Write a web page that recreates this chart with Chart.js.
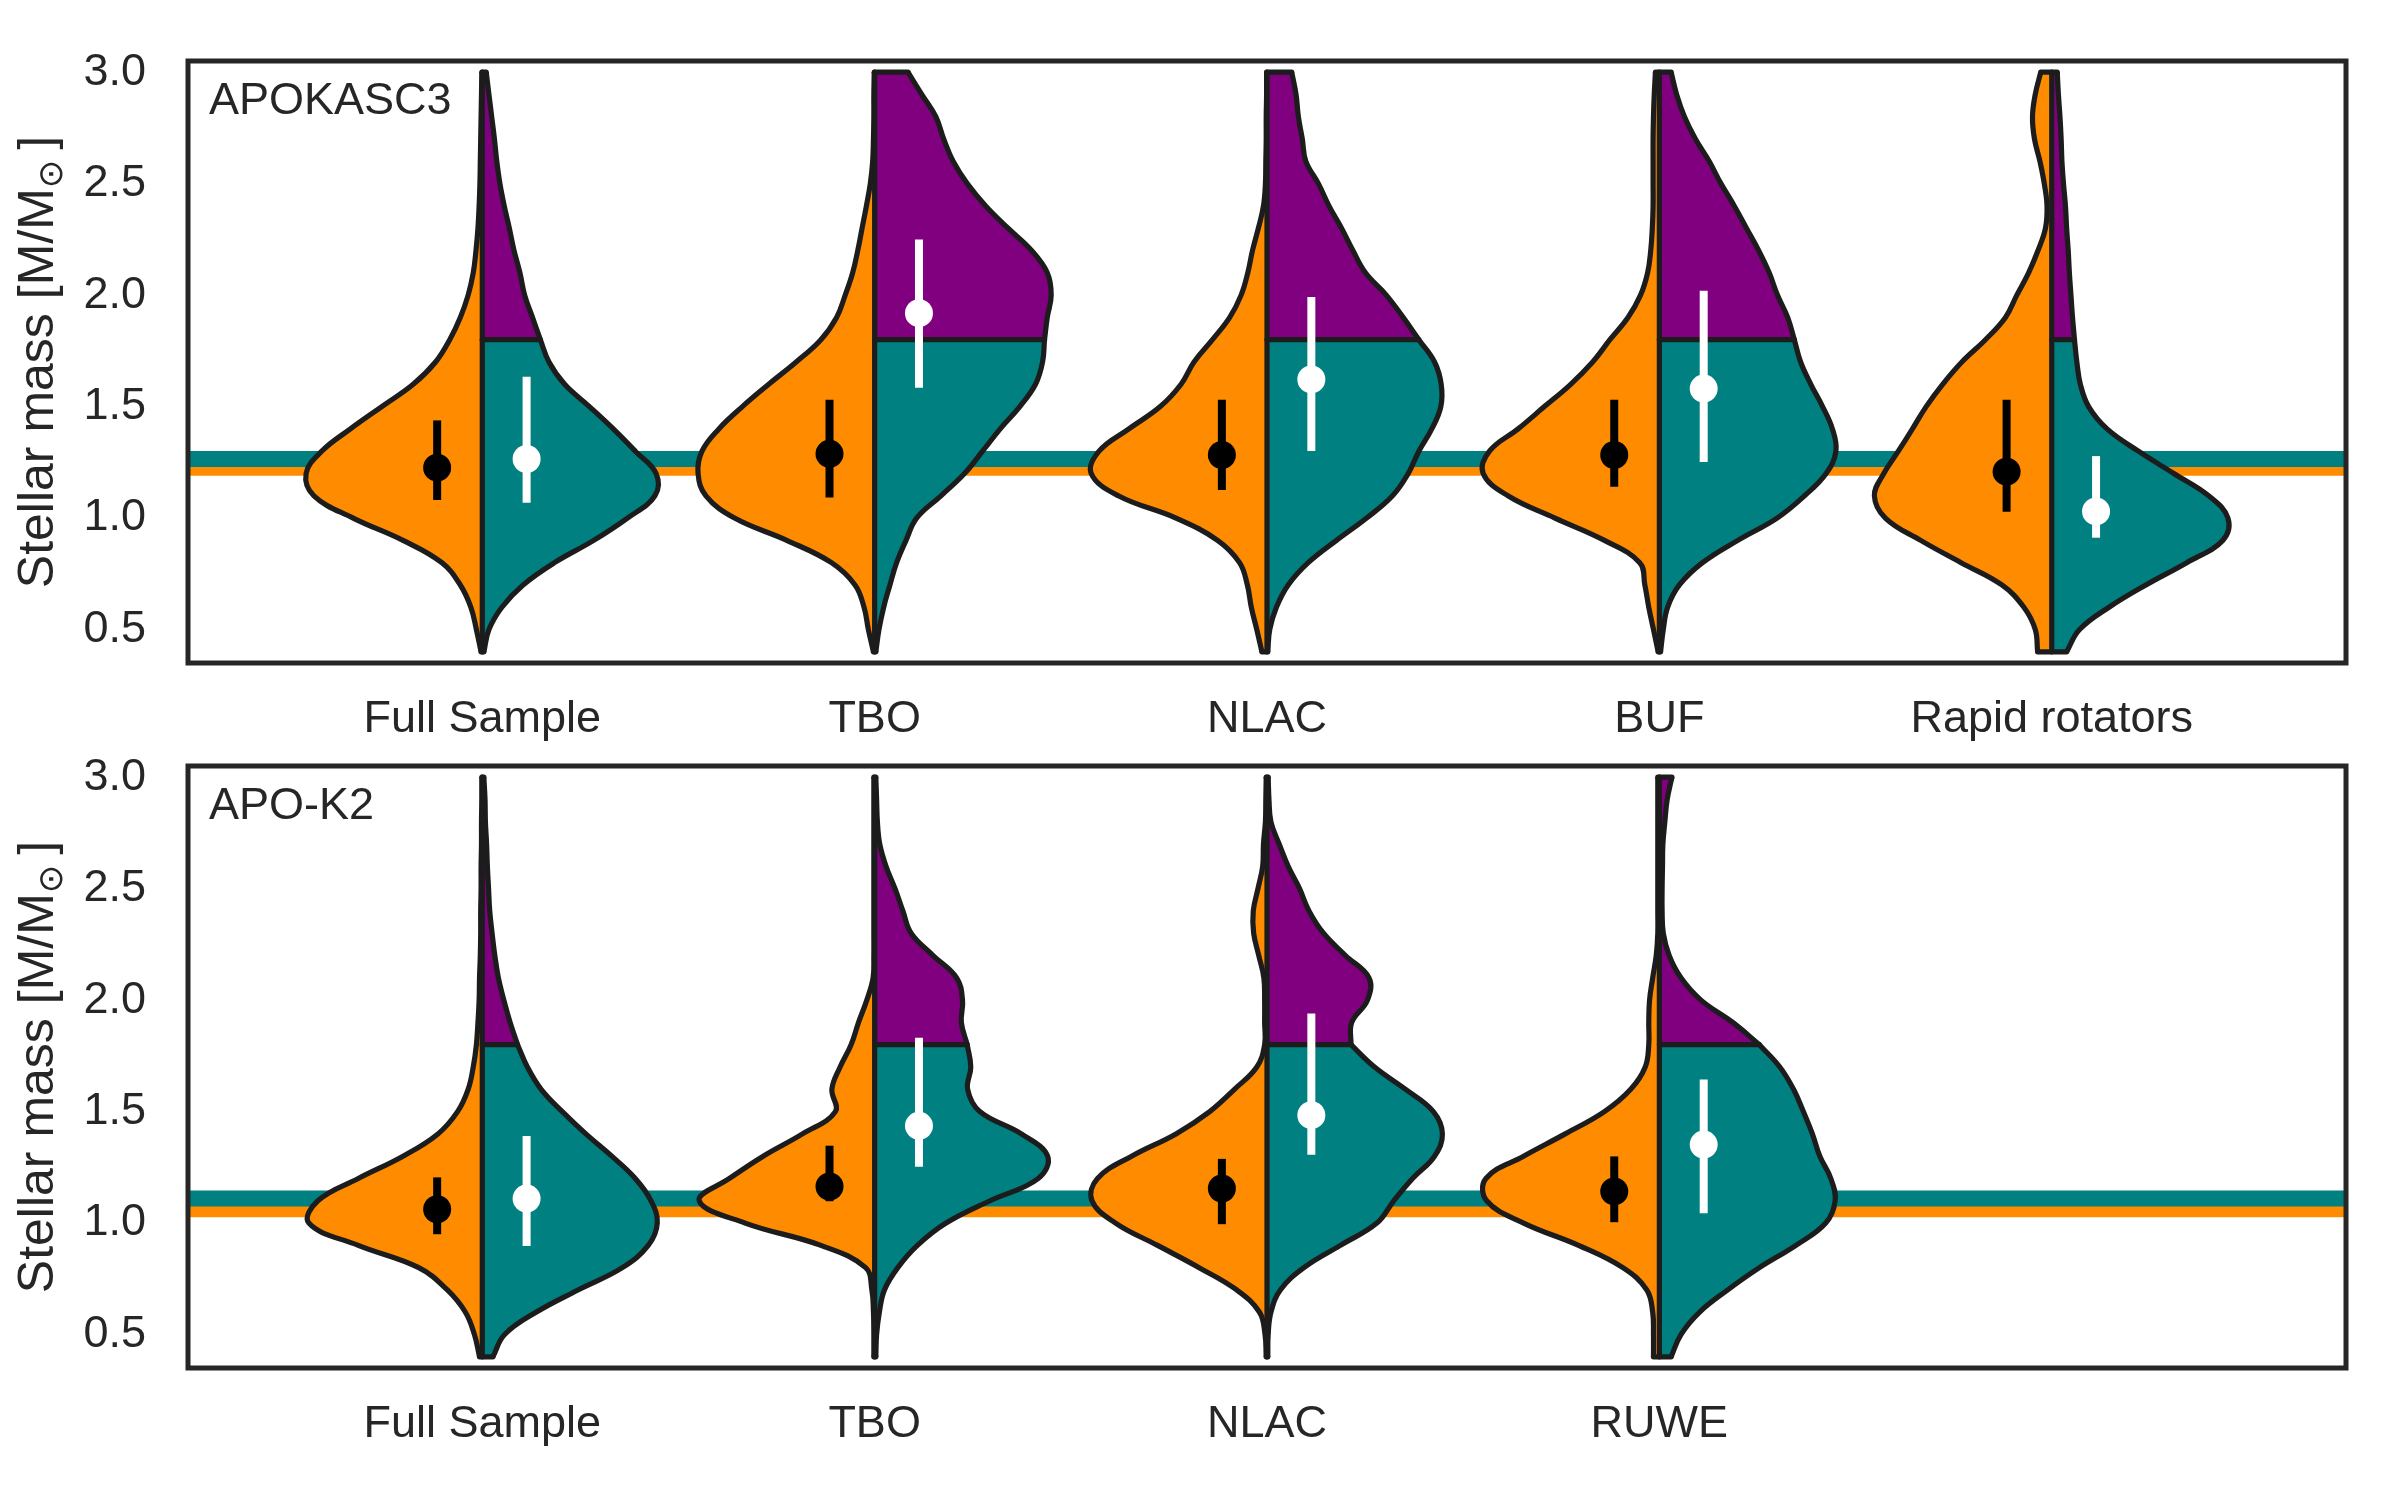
<!DOCTYPE html>
<html>
<head>
<meta charset="utf-8">
<script src="https://cdn.jsdelivr.net/npm/chart.js@4.4.1/dist/chart.umd.min.js"></script>
<style>
  html, body { margin: 0; padding: 0; background: #ffffff; }
  #page { position: relative; width: 2400px; height: 1500px; }
  .panel { position: absolute; left: 0; width: 2400px; height: 750px; }
  .panel canvas { display: block; }
</style>
</head>
<body>
<div id="page">
  <div class="panel" style="top:0px"><canvas id="apokascChart" width="2400" height="750"></canvas></div>
  <div class="panel" style="top:750px"><canvas id="apok2Chart" width="2400" height="750"></canvas></div>
</div>
<script>
// Mass grid on which the violin half-widths were read (M/Msun)
const massGrid = [0.4, 0.5, 0.6, 0.7, 0.8, 0.9, 1.0, 1.1, 1.2, 1.3, 1.4, 1.5, 1.6, 1.7, 1.8,
                  1.9, 2.0, 2.1, 2.2, 2.3, 2.4, 2.5, 2.6, 2.7, 2.8, 2.9, 3.0];
const massTicks = [0.5, 1.0, 1.5, 2.0, 2.5, 3.0];
const massSplit = 1.8;

// ---- APOKASC3 panel ----
const apokascLabels = ['Full Sample', 'TBO', 'NLAC', 'BUF', 'Rapid rotators'];
// half-widths (category units), left = orange, right = teal/purple
const apokascLeftWidth = [
  [0.003, 0.015, 0.029, 0.056, 0.103, 0.202, 0.329, 0.429, 0.449, 0.409, 0.336, 0.256, 0.176, 0.119, 0.083, 0.056, 0.036, 0.023, 0.016, 0.011, 0.008, 0.006, 0.005, 0.004, 0.003, 0.002, 0.001],
  [0.003, 0.016, 0.027, 0.05, 0.11, 0.224, 0.357, 0.43, 0.45, 0.44, 0.397, 0.337, 0.27, 0.2, 0.137, 0.097, 0.075, 0.056, 0.043, 0.032, 0.021, 0.011, 0.005, 0.003, 0.002, 0.002, 0.001],
  [0.013, 0.026, 0.04, 0.05, 0.07, 0.126, 0.232, 0.379, 0.448, 0.428, 0.352, 0.272, 0.219, 0.186, 0.139, 0.095, 0.066, 0.049, 0.037, 0.022, 0.009, 0.004, 0.003, 0.002, 0.002, 0.001, 0.001],
  [0.003, 0.015, 0.027, 0.037, 0.05, 0.14, 0.266, 0.386, 0.449, 0.433, 0.36, 0.293, 0.226, 0.17, 0.126, 0.08, 0.048, 0.03, 0.022, 0.018, 0.016, 0.016, 0.016, 0.016, 0.015, 0.013, 0.01],
  [0.036, 0.042, 0.071, 0.127, 0.231, 0.334, 0.424, 0.452, 0.428, 0.391, 0.355, 0.32, 0.278, 0.229, 0.169, 0.118, 0.089, 0.059, 0.035, 0.016, 0.012, 0.019, 0.03, 0.044, 0.049, 0.042, 0.028]
];
const apokascRightWidth = [
  [0.004, 0.017, 0.05, 0.104, 0.184, 0.284, 0.37, 0.44, 0.443, 0.39, 0.334, 0.273, 0.21, 0.17, 0.148, 0.128, 0.108, 0.096, 0.081, 0.069, 0.056, 0.045, 0.037, 0.031, 0.024, 0.017, 0.01],
  [0.003, 0.011, 0.023, 0.039, 0.056, 0.08, 0.107, 0.169, 0.229, 0.275, 0.32, 0.37, 0.41, 0.428, 0.433, 0.44, 0.45, 0.44, 0.40, 0.34, 0.283, 0.236, 0.2, 0.176, 0.156, 0.12, 0.085],
  [0.002, 0.007, 0.024, 0.054, 0.105, 0.177, 0.254, 0.32, 0.36, 0.387, 0.42, 0.443, 0.444, 0.427, 0.387, 0.347, 0.304, 0.251, 0.219, 0.19, 0.158, 0.131, 0.099, 0.09, 0.08, 0.074, 0.063],
  [0.003, 0.01, 0.021, 0.051, 0.11, 0.2, 0.3, 0.37, 0.425, 0.45, 0.441, 0.416, 0.386, 0.36, 0.344, 0.327, 0.301, 0.28, 0.253, 0.222, 0.191, 0.157, 0.127, 0.092, 0.064, 0.044, 0.03],
  [0.038, 0.071, 0.146, 0.24, 0.344, 0.436, 0.449, 0.4, 0.311, 0.221, 0.141, 0.094, 0.073, 0.064, 0.058, 0.053, 0.049, 0.045, 0.042, 0.038, 0.035, 0.03, 0.026, 0.024, 0.021, 0.017, 0.014]
];
const apokascLeftMedian = [1.226, 1.288, 1.283, 1.283, 1.208];
const apokascLeftLow = [1.081, 1.092, 1.126, 1.14, 1.028];
const apokascLeftHigh = [1.438, 1.531, 1.531, 1.531, 1.531];
const apokascRightMedian = [1.265, 1.919, 1.622, 1.581, 1.03];
const apokascRightLow = [1.069, 1.584, 1.301, 1.251, 0.912];
const apokascRightHigh = [1.634, 2.249, 1.991, 2.019, 1.278];
const apokascBands = [1.226, 1.265];   // orange, teal reference lines

// ---- APO-K2 panel ----
const apok2Labels = ['Full Sample', 'TBO', 'NLAC', 'RUWE'];
const apok2LeftWidth = [
  [0.007, 0.02, 0.043, 0.089, 0.162, 0.316, 0.442, 0.419, 0.316, 0.202, 0.113, 0.063, 0.036, 0.023, 0.015, 0.011, 0.008, 0.007, 0.005, 0.004, 0.004, 0.003, 0.003, 0.002, 0.002, 0.001, 0.001],
  [0.002, 0.002, 0.003, 0.007, 0.023, 0.137, 0.33, 0.447, 0.37, 0.284, 0.184, 0.1, 0.109, 0.088, 0.06, 0.041, 0.02, 0.004, 0.002, 0.002, 0.002, 0.002, 0.002, 0.002, 0.002, 0.002, 0.002],
  [0.002, 0.005, 0.019, 0.077, 0.173, 0.279, 0.386, 0.446, 0.432, 0.345, 0.232, 0.146, 0.083, 0.026, 0.006, 0.006, 0.006, 0.008, 0.021, 0.034, 0.035, 0.023, 0.011, 0.009, 0.004, 0.003, 0.002],
  [0.015, 0.015, 0.017, 0.032, 0.093, 0.206, 0.346, 0.44, 0.442, 0.346, 0.24, 0.14, 0.073, 0.036, 0.027, 0.027, 0.025, 0.017, 0.008, 0.004, 0.004, 0.004, 0.004, 0.004, 0.004, 0.004, 0.004]
];
const apok2RightWidth = [
  [0.027, 0.057, 0.137, 0.244, 0.357, 0.423, 0.446, 0.43, 0.39, 0.33, 0.264, 0.204, 0.15, 0.115, 0.09, 0.071, 0.055, 0.041, 0.032, 0.025, 0.019, 0.016, 0.013, 0.011, 0.008, 0.007, 0.004],
  [0.003, 0.005, 0.012, 0.025, 0.059, 0.109, 0.182, 0.294, 0.417, 0.441, 0.374, 0.268, 0.237, 0.245, 0.236, 0.221, 0.224, 0.209, 0.149, 0.093, 0.072, 0.052, 0.029, 0.013, 0.007, 0.005, 0.003],
  [0.002, 0.003, 0.01, 0.034, 0.094, 0.187, 0.28, 0.323, 0.371, 0.427, 0.447, 0.424, 0.353, 0.274, 0.214, 0.216, 0.256, 0.26, 0.2, 0.144, 0.107, 0.083, 0.054, 0.031, 0.01, 0.005, 0.003],
  [0.03, 0.055, 0.102, 0.174, 0.255, 0.348, 0.424, 0.448, 0.437, 0.409, 0.39, 0.367, 0.342, 0.307, 0.255, 0.187, 0.106, 0.055, 0.025, 0.01, 0.007, 0.007, 0.008, 0.009, 0.014, 0.02, 0.032]
];
const apok2LeftMedian = [1.062, 1.164, 1.155, 1.142];
const apok2LeftLow = [0.95, 1.098, 0.995, 1.004];
const apok2LeftHigh = [1.205, 1.347, 1.288, 1.299];
const apok2RightMedian = [1.11, 1.436, 1.484, 1.352];
const apok2RightLow = [0.897, 1.253, 1.306, 1.044];
const apok2RightHigh = [1.391, 1.831, 1.94, 1.644];
const apok2Bands = [1.062, 1.11];

// ---- styling ----
const ORANGE = '#ff8c00';
const TEAL = '#008080';
const PURPLE = '#800080';
const EDGE = '#1c1c1c';
const INK = '#262626';
const FONT = '"Liberation Sans", Arial, Helvetica, sans-serif';
const X_MIN = -0.75, X_MAX = 4.75, Y_MIN = 0.35, Y_MAX = 3.05;
const LEFT_OFFSET = -0.115, RIGHT_OFFSET = 0.113;
const OUTLINE = 5.2;

function curve(cat, points, color) {
  return {
    data: points,
    borderColor: EDGE,
    borderWidth: OUTLINE,
    backgroundColor: color,
    fill: { value: cat },
    tension: 0.4,
    pointRadius: 0,
    order: 5
  };
}

function edge(points) {
  return {
    data: points,
    borderColor: EDGE,
    borderWidth: OUTLINE,
    borderCapStyle: 'round',
    fill: false,
    tension: 0,
    pointRadius: 0,
    order: 4
  };
}

function errorBar(x, lo, hi, color) {
  return {
    data: [{ x: x, y: lo }, { x: x, y: hi }],
    borderColor: color,
    borderWidth: 8,
    borderCapStyle: 'butt',
    fill: false,
    pointRadius: 0,
    order: 2
  };
}

function dot(x, y, color) {
  return {
    data: [{ x: x, y: y }],
    showLine: false,
    fill: false,
    pointRadius: 14,
    pointBorderWidth: 0,
    pointBackgroundColor: color,
    pointBorderColor: color,
    order: 1
  };
}

function buildDatasets(leftW, rightW, leftMed, leftLo, leftHi, rightMed, rightLo, rightHi, bands) {
  const sets = [];
  const bandColors = [ORANGE, TEAL];
  bands.forEach((b, k) => {
    sets.push({
      data: [{ x: X_MIN, y: b }, { x: X_MAX, y: b }],
      borderColor: bandColors[k],
      borderWidth: 16,
      borderCapStyle: 'butt',
      fill: false,
      pointRadius: 0,
      clip: 0,
      order: 20 - k
    });
  });

  const idx = massGrid.map((m, k) => k);
  const lowIdx = idx.filter(k => massGrid[k] <= massSplit + 1e-9);
  const highIdx = idx.filter(k => massGrid[k] >= massSplit - 1e-9);
  const splitIdx = idx.find(k => Math.abs(massGrid[k] - massSplit) < 1e-9);
  const first = 0;
  const last = massGrid.length - 1;

  leftW.forEach((lw, cat) => {
    const rw = rightW[cat];
    sets.push(curve(cat, idx.map(k => ({ x: cat - lw[k], y: massGrid[k] })), ORANGE));
    sets.push(curve(cat, lowIdx.map(k => ({ x: cat + rw[k], y: massGrid[k] })), TEAL));
    sets.push(curve(cat, highIdx.map(k => ({ x: cat + rw[k], y: massGrid[k] })), PURPLE));

    // straight edges: centre line, end caps, teal/purple split
    sets.push(edge([{ x: cat, y: massGrid[first] }, { x: cat, y: massGrid[last] }]));
    sets.push(edge([{ x: cat - lw[first], y: massGrid[first] }, { x: cat + rw[first], y: massGrid[first] }]));
    sets.push(edge([{ x: cat - lw[last], y: massGrid[last] }, { x: cat + rw[last], y: massGrid[last] }]));
    sets.push(edge([{ x: cat, y: massSplit }, { x: cat + rw[splitIdx], y: massSplit }]));

    sets.push(errorBar(cat + LEFT_OFFSET, leftLo[cat], leftHi[cat], '#000000'));
    sets.push(errorBar(cat + RIGHT_OFFSET, rightLo[cat], rightHi[cat], '#ffffff'));
    sets.push(dot(cat + LEFT_OFFSET, leftMed[cat], '#000000'));
    sets.push(dot(cat + RIGHT_OFFSET, rightMed[cat], '#ffffff'));
  });
  return sets;
}

// frame, panel name and y-axis title (with subscript sun symbol)
const panelDecor = {
  id: 'panelDecor',
  afterDraw(chart, args, opts) {
    const ctx = chart.ctx;
    const a = chart.chartArea;
    ctx.save();
    ctx.lineWidth = 5;
    ctx.strokeStyle = INK;
    ctx.strokeRect(a.left, a.top, a.right - a.left, a.bottom - a.top);

    ctx.fillStyle = INK;
    ctx.textAlign = 'left';
    ctx.textBaseline = 'alphabetic';
    ctx.font = '45px ' + FONT;
    ctx.fillText(opts.name, a.left + 21, a.top + 53);

    const mainText = 'Stellar mass [M/M';
    const subText = '\u2299';
    const endText = ']';
    ctx.translate(53, (a.top + a.bottom) / 2);
    ctx.rotate(-Math.PI / 2);
    ctx.font = '50px ' + FONT;
    const w1 = ctx.measureText(mainText).width;
    const w3 = ctx.measureText(endText).width;
    ctx.font = '34px "DejaVu Sans"';
    const w2 = ctx.measureText(subText).width;
    const gap = 10;
    let x = -(w1 + w2 + gap + w3) / 2;
    ctx.font = '50px ' + FONT;
    ctx.fillText(mainText, x, 0);
    x += w1;
    ctx.font = '34px "DejaVu Sans"';
    ctx.fillText(subText, x, 9);
    x += w2 + gap;
    ctx.font = '50px ' + FONT;
    ctx.fillText(endText, x, 0);
    ctx.restore();
  }
};

function makeChart(canvasId, labels, datasets, topPad, xHeight, name) {
  return new Chart(document.getElementById(canvasId), {
    type: 'line',
    data: { datasets: datasets },
    options: {
      indexAxis: 'y',
      responsive: false,
      animation: false,
      events: [],
      layout: { padding: { top: topPad, right: 54, left: 0, bottom: 0 } },
      elements: { point: { radius: 0 }, line: { borderJoinStyle: 'round' } },
      plugins: {
        legend: { display: false },
        tooltip: { enabled: false },
        panelDecor: { name: name }
      },
      scales: {
        x: {
          type: 'linear',
          min: X_MIN,
          max: X_MAX,
          grid: { display: false, drawTicks: false },
          border: { display: false },
          afterBuildTicks: s => { s.ticks = labels.map((_, i) => ({ value: i })); },
          afterFit: s => { s.height = xHeight; s.paddingLeft = 0; s.paddingRight = 0; },
          ticks: {
            autoSkip: false,
            maxRotation: 0,
            minRotation: 0,
            padding: 30,
            color: INK,
            font: { family: FONT, size: 45 },
            callback: v => labels[Math.round(v)] ?? ''
          }
        },
        y: {
          type: 'linear',
          min: Y_MIN,
          max: Y_MAX,
          grid: { display: false, drawTicks: false },
          border: { display: false },
          afterBuildTicks: s => { s.ticks = massTicks.map(v => ({ value: v })); },
          afterFit: s => { s.width = 188; s.paddingTop = 0; s.paddingBottom = 0; },
          ticks: {
            padding: 42,
            color: INK,
            font: { family: FONT, size: 45 },
            callback: v => Number(v).toFixed(1)
          }
        }
      }
    },
    plugins: [panelDecor]
  });
}

makeChart('apokascChart', apokascLabels,
  buildDatasets(apokascLeftWidth, apokascRightWidth, apokascLeftMedian, apokascLeftLow, apokascLeftHigh,
                apokascRightMedian, apokascRightLow, apokascRightHigh, apokascBands),
  61, 87, 'APOKASC3');

makeChart('apok2Chart', apok2Labels,
  buildDatasets(apok2LeftWidth, apok2RightWidth, apok2LeftMedian, apok2LeftLow, apok2LeftHigh,
                apok2RightMedian, apok2RightLow, apok2RightHigh, apok2Bands),
  16, 132, 'APO-K2');
</script>
</body>
</html>
